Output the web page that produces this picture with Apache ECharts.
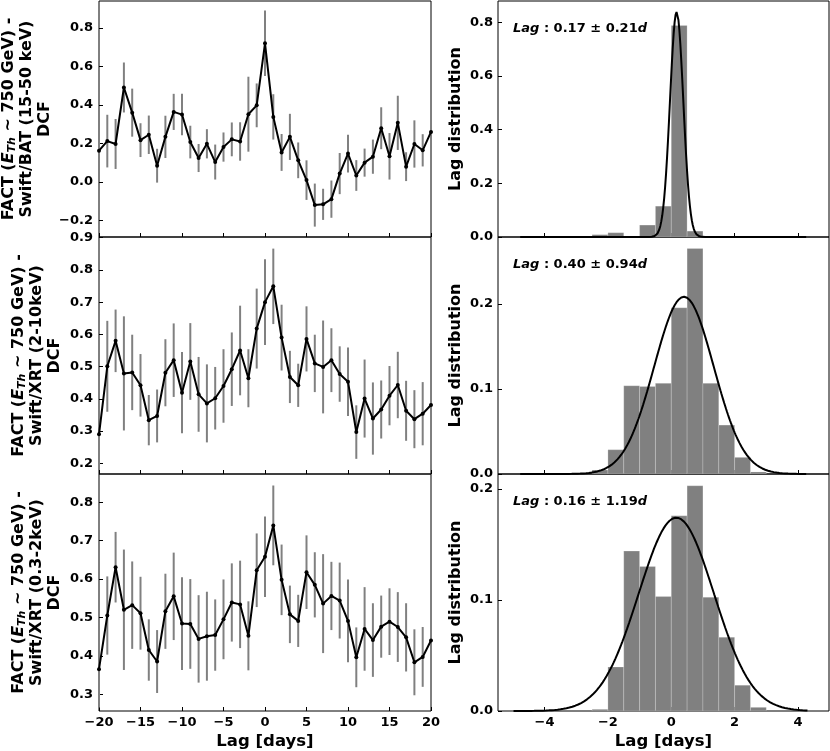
<!DOCTYPE html>
<html><head><meta charset="utf-8">
<script src="https://cdn.jsdelivr.net/npm/echarts@6/dist/echarts.min.js"></script>
<style>html,body{margin:0;padding:0;background:#fff}#c{width:830px;height:751px}</style>
</head><body><div id="c"></div>
<script>
// ---------- data ----------
const lags = [-20,-19,-18,-17,-16,-15,-14,-13,-12,-11,-10,-9,-8,-7,-6,-5,-4,-3,-2,-1,0,1,2,3,4,5,6,7,8,9,10,11,12,13,14,15,16,17,18,19,20];

const dcfBAT = [0.162,0.212,0.197,0.491,0.360,0.217,0.245,0.084,0.234,0.364,0.350,0.207,0.124,0.198,0.103,0.181,0.221,0.210,0.352,0.398,0.721,0.338,0.153,0.234,0.112,0.009,-0.121,-0.117,-0.090,0.043,0.147,0.033,0.100,0.131,0.279,0.133,0.307,0.079,0.197,0.164,0.260];
const errBAT = [0.110,0.137,0.130,0.130,0.125,0.088,0.100,0.088,0.110,0.094,0.108,0.085,0.073,0.076,0.091,0.076,0.088,0.100,0.195,0.114,0.170,0.118,0.096,0.120,0.093,0.103,0.112,0.081,0.097,0.107,0.098,0.080,0.073,0.089,0.109,0.121,0.141,0.075,0.123,0.084,0.095];

const dcfXRT210 = [0.290,0.501,0.580,0.479,0.482,0.442,0.334,0.347,0.481,0.520,0.419,0.516,0.414,0.386,0.402,0.440,0.492,0.550,0.464,0.618,0.700,0.749,0.590,0.468,0.442,0.586,0.510,0.499,0.520,0.477,0.453,0.297,0.401,0.339,0.367,0.410,0.443,0.363,0.337,0.354,0.381];
const errXRT210 = [0.100,0.141,0.097,0.177,0.117,0.097,0.078,0.082,0.104,0.114,0.126,0.119,0.116,0.121,0.097,0.114,0.114,0.139,0.090,0.124,0.133,0.117,0.102,0.081,0.067,0.101,0.089,0.144,0.099,0.086,0.106,0.083,0.121,0.112,0.090,0.092,0.103,0.093,0.090,0.098,0.100];

const dcfXRT032 = [0.365,0.505,0.631,0.520,0.532,0.511,0.415,0.385,0.516,0.555,0.484,0.483,0.444,0.451,0.454,0.495,0.539,0.534,0.452,0.623,0.658,0.740,0.598,0.508,0.491,0.618,0.585,0.536,0.556,0.544,0.491,0.396,0.470,0.441,0.476,0.489,0.475,0.448,0.383,0.397,0.440];
const errXRT032 = [0.100,0.102,0.092,0.157,0.114,0.095,0.080,0.082,0.098,0.114,0.121,0.117,0.114,0.116,0.093,0.104,0.102,0.114,0.090,0.096,0.105,0.104,0.092,0.075,0.068,0.096,0.085,0.129,0.089,0.099,0.108,0.078,0.109,0.096,0.081,0.087,0.091,0.089,0.086,0.078,0.100];

const histEdges = [-2.5,-2,-1.5,-1,-0.5,0,0.5,1,1.5,2,2.5,3];
const histBAT    = [0.0087,0.016,0,0.0445,0.115,0.789,0.022,0.003,0,0,0];
const histXRT210 = [0.0047,0.0286,0.1039,0.1031,0.1067,0.1957,0.2655,0.1067,0.0576,0.0196,0.0024];
const histXRT032 = [0.0015,0.0396,0.1439,0.130,0.103,0.1757,0.2027,0.1024,0.0664,0.0232,0.0033];

// Gaussian fit parameters (mean, sigma as annotated; peak height)
const fitMean  = [0.17, 0.40, 0.16];
const fitSigma = [0.21, 0.94, 1.19];
const fitPeak  = [0.839, 0.2086, 0.174];
const fitFrom  = [-4.77, -4.77, -4.98];
const fitTo    = [4.26, 4.26, 4.30];

const yTicksLeft = [[-0.2,0,0.2,0.4,0.6,0.8],[0.2,0.3,0.4,0.5,0.6,0.7,0.8,0.9],[0.3,0.4,0.5,0.6,0.7,0.8]];
const yTicksRight = [[0,0.2,0.4,0.6,0.8],[0,0.1,0.2],[0,0.1,0.2]];
const xTicksLeft = [-20,-15,-10,-5,0,5,10,15,20];
const xTicksRight = [-4,-2,0,2,4];

const bandLabels = ['Swift/BAT (15-50 keV)','Swift/XRT (2-10keV)','Swift/XRT (0.3-2keV)'];
const lagText = ['0.17 \u00b1 0.21','0.40 \u00b1 0.94','0.16 \u00b1 1.19'];

// ---------- layout ----------
const FONT = 'DejaVu Sans';
const tops = [1, 237, 474];
const heights = [236, 237, 237];
const leftRange = [[-0.287,0.941],[0.167,0.902],[0.256,0.874]];
const rightMax = [0.880, 0.279, 0.2133];
const dcfSets = [[dcfBAT,errBAT],[dcfXRT210,errXRT210],[dcfXRT032,errXRT032]];
const hists = [histBAT, histXRT210, histXRT032];
const minusFmt = (d) => (v) => v.toFixed(d).replace('-', '\u2212');

const grid = [], xAxis = [], yAxis = [], series = [], graphic = [];
const tickStyle = {inside: true, length: 4, lineStyle: {color: '#000', width: 1}};
const noLine = {show: false, onZero: false};
const labStyle = {color: '#000', fontFamily: FONT, fontWeight: 'bold', fontSize: 13};
const nameRich = {
  b:   {fontFamily: FONT, fontWeight: 'bold', fontSize: 16, lineHeight: 18, color: '#000'},
  bi:  {fontFamily: FONT, fontWeight: 'bold', fontStyle: 'italic', fontSize: 16, lineHeight: 18, color: '#000'},
  sub: {fontFamily: FONT, fontWeight: 'bold', fontStyle: 'italic', fontSize: 11, lineHeight: 10, verticalAlign: 'bottom', color: '#000'}
};

for (let i = 0; i < 3; i++) {
  grid.push({left: 99, width: 332, top: tops[i], height: heights[i], show: true, borderColor: '#000', borderWidth: 1, backgroundColor: 'transparent'});
  grid.push({left: 498, width: 331, top: tops[i], height: heights[i], show: true, borderColor: '#000', borderWidth: 1, backgroundColor: 'transparent'});
  const gL = 2 * i, gR = 2 * i + 1;
  xAxis.push({type: 'value', gridIndex: gL, min: -20, max: 20,
    axisLine: noLine, splitLine: {show: false},
    axisTick: Object.assign({customValues: xTicksLeft}, tickStyle),
    axisLabel: Object.assign({show: i === 2, customValues: xTicksLeft, margin: 5, formatter: minusFmt(0)}, labStyle),
    name: i === 2 ? 'Lag [days]' : '', nameLocation: 'middle', nameGap: 22,
    nameTextStyle: {fontFamily: FONT, fontWeight: 'bold', fontSize: 16.5, color: '#000'}});
  xAxis.push({type: 'value', gridIndex: gR, min: -5.47, max: 4.98,
    axisLine: noLine, splitLine: {show: false},
    axisTick: Object.assign({customValues: xTicksRight}, tickStyle),
    axisLabel: Object.assign({show: i === 2, customValues: xTicksRight, margin: 5, formatter: minusFmt(0)}, labStyle),
    name: i === 2 ? 'Lag [days]' : '', nameLocation: 'middle', nameGap: 22,
    nameTextStyle: {fontFamily: FONT, fontWeight: 'bold', fontSize: 16.5, color: '#000'}});
  yAxis.push({type: 'value', gridIndex: gL, min: leftRange[i][0], max: leftRange[i][1],
    axisLine: noLine, splitLine: {show: false},
    axisTick: Object.assign({customValues: yTicksLeft[i]}, tickStyle),
    axisLabel: Object.assign({customValues: yTicksLeft[i], margin: 6, formatter: minusFmt(1)}, labStyle),
    name: '{b|FACT (}{bi|E}{sub|Th}{b| ~ 750 GeV) -}\n{b|' + bandLabels[i] + '}\n{b|DCF}',
    nameLocation: 'middle', nameRotate: 90, nameGap: i === 0 ? 45 : 35,
    nameTextStyle: {rich: nameRich, align: 'center'}});
  yAxis.push({type: 'value', gridIndex: gR, min: 0, max: rightMax[i],
    axisLine: noLine, splitLine: {show: false},
    axisTick: Object.assign({customValues: yTicksRight[i]}, tickStyle),
    axisLabel: Object.assign({customValues: yTicksRight[i], margin: 5, formatter: minusFmt(1)}, labStyle),
    name: 'Lag distribution', nameLocation: 'middle', nameRotate: 90, nameGap: 34,
    nameTextStyle: {fontFamily: FONT, fontWeight: 'bold', fontSize: 16, color: '#000'}});

  const [dcf, err] = dcfSets[i];
  series.push({type: 'custom', xAxisIndex: gL, yAxisIndex: gL, clip: true, z: 2,
    data: lags.map((x, k) => [x, dcf[k] - err[k], dcf[k] + err[k]]),
    encode: {x: 0, y: [1, 2]},
    renderItem: (p, api) => {
      const a = api.coord([api.value(0), api.value(1)]);
      const b = api.coord([api.value(0), api.value(2)]);
      return {type: 'line', shape: {x1: a[0], y1: a[1], x2: b[0], y2: b[1]}, style: {stroke: '#808080', lineWidth: 2}};
    }});
  series.push({type: 'line', xAxisIndex: gL, yAxisIndex: gL, clip: true, z: 3,
    data: lags.map((x, k) => [x, dcf[k]]),
    symbol: 'circle', symbolSize: 4, showSymbol: true,
    itemStyle: {color: '#000'}, lineStyle: {color: '#000', width: 2}});

  const h = hists[i];
  series.push({type: 'custom', xAxisIndex: gR, yAxisIndex: gR, clip: true, z: 2,
    data: h.map((v, k) => [histEdges[k], histEdges[k + 1], v]),
    encode: {x: [0, 1], y: 2},
    renderItem: (p, api) => {
      const a = api.coord([api.value(0), 0]);
      const b = api.coord([api.value(1), api.value(2)]);
      return {type: 'rect', shape: {x: a[0], y: b[1], width: b[0] - a[0], height: a[1] - b[1]},
        style: {fill: '#808080', stroke: 'rgba(255,255,255,0.25)', lineWidth: 0.8}};
    }});
  const curve = [];
  const n = 300;
  for (let k = 0; k <= n; k++) {
    const x = fitFrom[i] + (fitTo[i] - fitFrom[i]) * k / n;
    const z = (x - fitMean[i]) / fitSigma[i];
    curve.push([x, fitPeak[i] * Math.exp(-0.5 * z * z)]);
  }
  series.push({type: 'line', xAxisIndex: gR, yAxisIndex: gR, clip: true, z: 3, data: curve,
    showSymbol: false, symbol: 'none', lineStyle: {color: '#000', width: 2}});

  graphic.push({type: 'text', left: 513, top: tops[i] + 21, z: 10,
    style: {text: '{it|Lag}{b| : ' + lagText[i] + '}{it|d}', rich: {
      it: {fontFamily: FONT, fontWeight: 'bold', fontStyle: 'italic', fontSize: 13, fill: '#000'},
      b:  {fontFamily: FONT, fontWeight: 'bold', fontSize: 13, fill: '#000'}}}});
}

const chart = echarts.init(document.getElementById('c'), null, {renderer: 'canvas'});
chart.setOption({animation: false, backgroundColor: '#fff', grid, xAxis, yAxis, series, graphic});
</script>
</body></html>
